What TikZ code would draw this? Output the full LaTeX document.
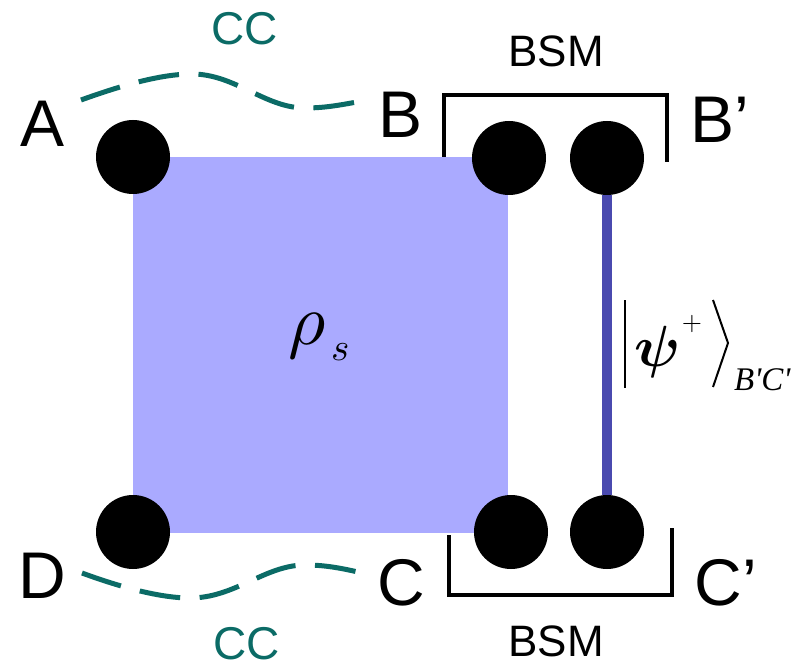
\documentclass[tikz,border=0pt]{standalone}
\usepackage{fontspec}
\usepackage{graphicx}
\usepackage{bm}
\setmainfont{Liberation Sans}
\newfontfamily\serifit{Liberation Serif}[ItalicFont={* Italic}]
\definecolor{sqfill}{HTML}{AAAAFF}
\definecolor{linkblue}{HTML}{4A4AAF}
\definecolor{ccteal}{HTML}{0B6B66}
\tikzset{
  qubit/.style={circle,fill=black,minimum size=74pt,inner sep=0pt},
  lbl/.style={anchor=base,inner sep=0pt,font=\fontsize{66}{66}\selectfont},
  bsmlbl/.style={anchor=base,inner sep=0pt,font=\fontsize{44}{44}\selectfont},
  cclbl/.style={anchor=base,inner sep=0pt,text=ccteal,font=\fontsize{46}{46}\selectfont},
  bracket/.style={line width=4pt,black},
  ccline/.style={line width=5pt,ccteal,dash pattern=on 41pt off 19.5pt},
  mathlbl/.style={anchor=base west,inner sep=0pt}
}
\begin{document}
\begin{tikzpicture}[x=1pt,y=-1pt]
\useasboundingbox (0,0) rectangle (805,668);
% state square
\fill[sqfill] (133,157) rectangle (508,533);
% qubits
\node[qubit] (A) at (133,157) {};
\node[qubit] (B) at (509,158) {};
\node[qubit] (Bp) at (607,158) {};
\node[qubit] (D) at (133,532) {};
\node[qubit] (C) at (511,532) {};
\node[qubit] (Cp) at (607,532) {};
% Bell pair link
\draw[linkblue,line width=10pt] (Bp.south) -- (Cp.north);
% labels
\node[lbl] (lA) at (43,147) {A};
\node[lbl] (lB) at (401,138) {B};
\node[lbl] (lBp) at (720,143) {B’};
\node[lbl] (lD) at (42,598) {D};
\node[lbl] (lC) at (401,605) {C};
\node[lbl] (lCp) at (726,605) {C’};
% BSM brackets
\coordinate (t1) at (444,157);
\coordinate (t2) at (444,95);
\coordinate (t3) at (667,95);
\coordinate (t4) at (667,162);
\draw[bracket] (t1) -- (t2) -- (t3) -- (t4);
\coordinate (b1) at (449,535);
\coordinate (b2) at (449,595);
\coordinate (b3) at (672,595);
\coordinate (b4) at (672,528);
\draw[bracket] (b1) -- (b2) -- (b3) -- (b4);
\node[bsmlbl] (bsmT) at (556,67) {BSM};
\node[bsmlbl] (bsmB) at (556,656) {BSM};
% classical communication
\coordinate (ccA) at (81,100);
\coordinate (ccB) at (357,102);
\coordinate (ccD) at (82,573);
\coordinate (ccC) at (358,572);
\draw[ccline] (ccA) .. controls (120,86) and (160,74) .. (192,74)
  .. controls (235,74) and (265,108) .. (305,108)
  .. controls (325,108) and (340,105) .. (ccB);
\draw[ccline] (ccD) .. controls (120,587) and (160,598) .. (190,598)
  .. controls (235,598) and (265,565) .. (305,565)
  .. controls (325,565) and (340,568) .. (ccC);
\node[cclbl] (ccT) at (245,45) {CC};
\node[cclbl] (ccBt) at (247,659) {CC};
% rho_s
\node[mathlbl] (rho) at (288,344) {\scalebox{7.2}{$\rho$}};
\node[mathlbl] (rhos) at (331,360) {\scalebox{3.9}{$s$}};
% ket
\coordinate (k1) at (625,300);
\coordinate (k2) at (625,388);
\draw[line width=2.5pt] (k1) -- (k2);
\coordinate (a1) at (713,300);
\coordinate (a2) at (728,343);
\coordinate (a3) at (713,387);
\draw[line width=2pt] (a1) -- (a2) -- (a3);
\node[mathlbl] (psi) at (634,366) {\scalebox{5.8}{$\bm{\psi}$}};
\node[anchor=center,inner sep=0pt] (plus) at (692,324) {\scalebox{2.6}{$+$}};
\node[mathlbl,font=\serifit\itshape\fontsize{33}{33}\selectfont] (sub) at (734,390) {B'C'};
\end{tikzpicture}
\end{document}
